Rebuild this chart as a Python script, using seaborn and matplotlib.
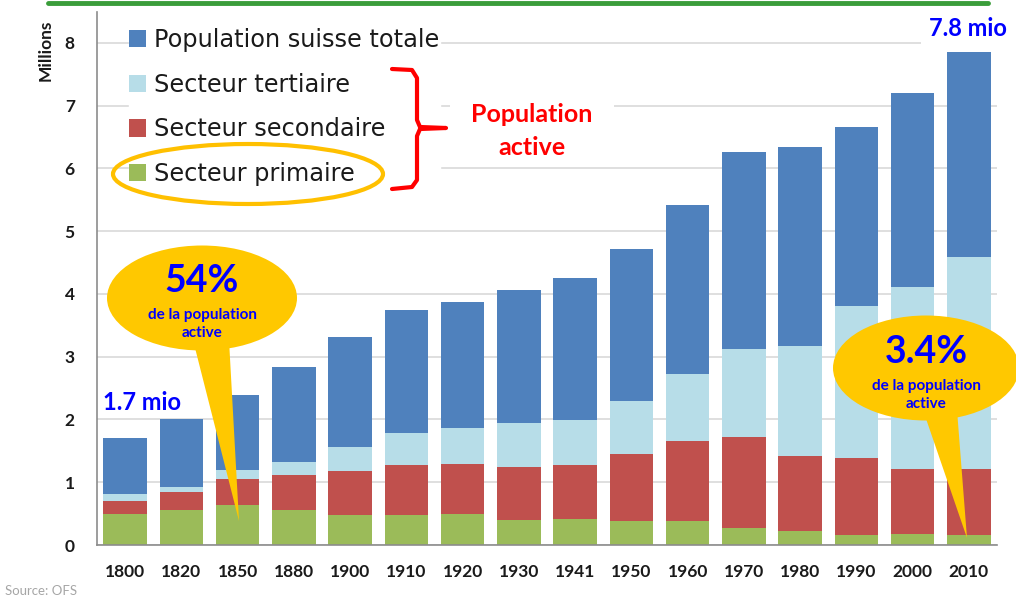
import numpy as np
import matplotlib
matplotlib.use("Agg")
import matplotlib.pyplot as plt
import seaborn as sns
from matplotlib.patches import Ellipse, Polygon, Rectangle, Patch
from matplotlib.lines import Line2D

# Data (millions of people)
years = ['1800', '1820', '1850', '1880', '1900', '1910', '1920', '1930',
         '1941', '1950', '1960', '1970', '1980', '1990', '2000', '2010']
total = [1.71, 2.00, 2.39, 2.84, 3.31, 3.75, 3.87, 4.06,
         4.26, 4.71, 5.42, 6.26, 6.35, 6.66, 7.20, 7.86]
primaire = [0.49, 0.55, 0.64, 0.55, 0.48, 0.48, 0.49, 0.40,
            0.41, 0.38, 0.39, 0.27, 0.22, 0.16, 0.18, 0.16]
secondaire = [0.21, 0.29, 0.41, 0.57, 0.70, 0.79, 0.80, 0.85,
              0.86, 1.07, 1.27, 1.45, 1.20, 1.23, 1.03, 1.05]
tertiaire = [0.11, 0.08, 0.15, 0.21, 0.38, 0.51, 0.57, 0.69,
             0.72, 0.85, 1.06, 1.41, 1.75, 2.42, 2.90, 3.38]

labels = ['Population suisse totale', 'Secteur tertiaire',
          'Secteur secondaire', 'Secteur primaire']
colors = ['#4F81BD', '#B7DDE8', '#C0504D', '#9BBB59']

W, H = 1016, 599


def fpx(x, y):
    # pixel position -> figure fraction
    return x / W, 1 - y / H


sns.set_style('white')
plt.rcParams['font.family'] = ['Lato', 'DejaVu Sans']

fig = plt.figure(figsize=(W / 100, H / 100), dpi=100)
ax = fig.add_axes([97 / W, 1 - 545 / H, 900 / W, (545 - 11.6) / H])

# stacked bars: draw cumulative heights from the top down
prim = np.array(primaire)
sec_top = prim + np.array(secondaire)
ter_top = sec_top + np.array(tertiaire)
stacks = [np.array(total), ter_top, sec_top, prim]
for vals, col in zip(stacks, colors):
    sns.barplot(x=years, y=vals, color=col, saturation=1, width=0.77,
                ax=ax, linewidth=0, zorder=2)

ax.set_xlim(-0.5, 15.5)
ax.set_ylim(0, 8.5)
ax.set_yticks(range(0, 9))
ax.set_xlabel('')
ax.set_ylabel('')
ax.set_axisbelow(True)
ax.yaxis.grid(True, color='#D9D9D9', linewidth=1.2)
ax.xaxis.grid(False)

for s in ['top', 'right']:
    ax.spines[s].set_visible(False)
for s in ['left', 'bottom']:
    ax.spines[s].set_color('#8C8C8C')
    ax.spines[s].set_linewidth(1.2)

ax.set_xticks(np.arange(-0.5, 16, 1), minor=True)
ax.tick_params(axis='x', which='major', length=0, pad=14)
ax.tick_params(axis='x', which='minor', length=6, color='#8C8C8C', width=1.2)
ax.tick_params(axis='y', length=7, color='#D9D9D9', width=1.2, pad=9)
for t in ax.get_xticklabels() + ax.get_yticklabels():
    t.set_fontsize(12.5)
    t.set_fontweight('bold')
    t.set_color('#1A1A1A')

# legend
handles = [Patch(facecolor=c, edgecolor='none') for c in colors]
leg = fig.legend(handles, labels, loc='upper left',
                 bbox_to_anchor=fpx(117, 16), frameon=True,
                 prop={'family': 'DejaVu Sans', 'size': 17.3},
                 handlelength=0.72, handleheight=0.72, handletextpad=0.34,
                 labelspacing=0.86, borderpad=0.0, fancybox=False)
leg.get_frame().set_facecolor('white')
leg.get_frame().set_edgecolor('white')
leg.get_frame().set_alpha(1)
for t in leg.get_texts():
    t.set_color('#1A1A1A')

# circle around "Secteur primaire"
fig.add_artist(Ellipse(fpx(248, 174), 270 / W, 60 / H, facecolor='none',
                       edgecolor='#FFC000', linewidth=3, zorder=10))

# red brace
brace = [(392, 69), (412, 70), (417, 78), (417, 120), (420, 127), (446, 128),
         (420, 129), (417, 136), (417, 180), (412, 187), (392, 189)]
fig.add_artist(Line2D([fpx(*p)[0] for p in brace], [fpx(*p)[1] for p in brace],
                      color='#FF0000', linewidth=3, zorder=10,
                      solid_joinstyle='round'))

# white box behind "Population active"
fig.add_artist(Rectangle(fpx(450, 160), 164 / W, 65 / H, facecolor='white',
                         edgecolor='none', zorder=0.5, transform=fig.transFigure))
ax.set_zorder(0)
ax.patch.set_alpha(0)
fig.text(*fpx(532, 131), 'Population\nactive', color='#FF0000',
         fontsize=18, fontweight='bold', ha='center', va='center',
         linespacing=1.5, zorder=11)

# value labels
fig.text(*fpx(968, 28), '7.8 mio', color='#0000FF', fontsize=17,
         fontweight='bold', ha='center', va='center', zorder=11,
         bbox=dict(facecolor='white', edgecolor='none', pad=6))
fig.text(*fpx(142, 402), '1.7 mio', color='#0000FF', fontsize=17,
         fontweight='bold', ha='center', va='center', zorder=11)


# speech bubbles
def bubble(cx, cy, w, h, tail, big, by):
    fig.add_artist(Polygon([fpx(*p) for p in tail], closed=True,
                           facecolor='#FFC800', edgecolor='none', zorder=12))
    fig.add_artist(Ellipse(fpx(cx, cy), w / W, h / H, facecolor='#FFC800',
                           edgecolor='none', zorder=12))
    fig.text(*fpx(cx, by), big, color='#0000FF', fontsize=27,
             fontweight='bold', ha='center', va='center', zorder=13)
    fig.text(*fpx(cx, by + 43), 'de la population\nactive', color='#0000FF',
             fontsize=11, fontweight='bold', ha='center', va='center',
             linespacing=1.4, zorder=13)


bubble(202, 298, 190, 105, [(193, 340), (229, 340), (239, 521)], '54%', 281)
bubble(926, 368, 186, 105, [(923, 410), (957, 410), (967, 538)], '3.4%', 352)

# extra texts
fig.text(*fpx(46, 50), 'Millions', rotation=90, fontsize=12.5,
         fontweight='bold', ha='center', va='center', color='#1A1A1A')
fig.text(*fpx(5, 591), 'Source: OFS', fontsize=9.5, color='#A6A6A6',
         ha='left', va='center')
fig.add_artist(Line2D([48 / W, 988 / W], [1 - 3 / H, 1 - 3 / H],
                      color='#3A9D3A', linewidth=3.5, zorder=20))

fig.savefig('out.png', dpi=100)
